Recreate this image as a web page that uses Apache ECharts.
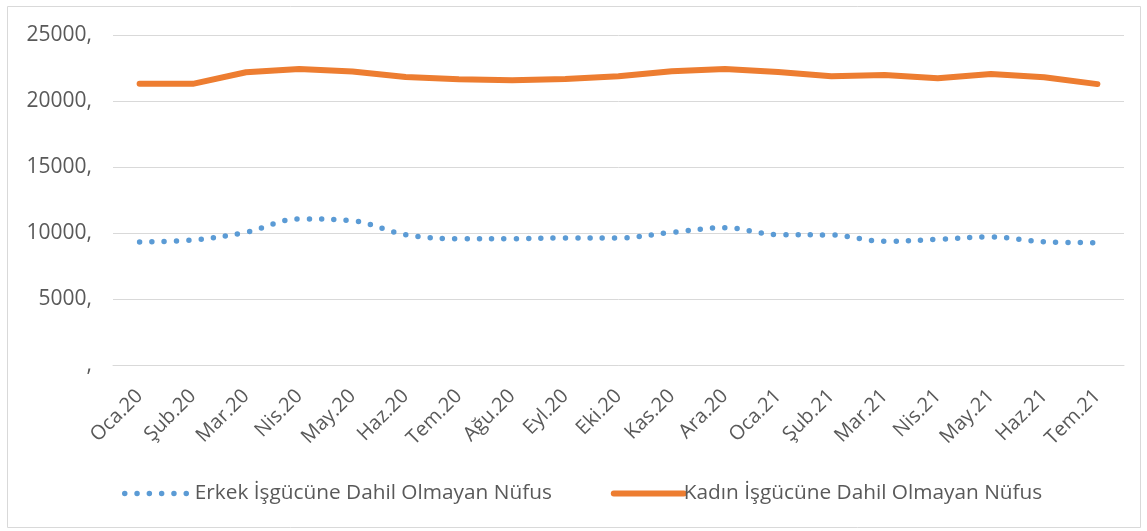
<!DOCTYPE html>
<html><head><meta charset="utf-8">
<script src="https://cdn.jsdelivr.net/npm/echarts@6/dist/echarts.min.js"></script>
<style>html,body{margin:0;padding:0;background:#fff}#c{width:1147px;height:531px}</style>
</head><body><div id="c"></div>
<script>
const categories = ["Oca.20","Şub.20","Mar.20","Nis.20","May.20","Haz.20","Tem.20","Ağu.20","Eyl.20","Eki.20","Kas.20","Ara.20","Oca.21","Şub.21","Mar.21","Nis.21","May.21","Haz.21","Tem.21"];
const erkek = [9320, 9470, 10050, 11070, 10930, 9870, 9570, 9570, 9620, 9620, 10050, 10400, 9870, 9850, 9370, 9520, 9700, 9330, 9270];
const kadin = [21300, 21300, 22180, 22420, 22240, 21820, 21650, 21580, 21660, 21880, 22260, 22420, 22190, 21880, 21970, 21730, 22040, 21800, 21280];
const yTicks = [0, 5000, 10000, 15000, 20000, 25000];
const seriesNames = ["Erkek İşgücüne Dahil Olmayan Nüfus", "Kadın İşgücüne Dahil Olmayan Nüfus"];

const chart = echarts.init(document.getElementById('c'));
const font = 'Open Sans';
chart.setOption({
  animation: false,
  graphic: [{type:'rect', shape:{x:7.5,y:6.5,width:1133,height:521}, style:{fill:'none', stroke:'#d9d9d9', lineWidth:1}}],
  grid: {left: 113, right: 23, top: 35, bottom: 166, containLabel: false},
  legend: {
    bottom: 22, left: 117, itemGap: 59, itemWidth: 70, itemHeight: 14,
    textStyle: {fontFamily: font, fontSize: 20.8, color: '#595959', padding: [0, 0, 0, -5]},
    itemStyle: {opacity: 0},
    data: [
      {name: seriesNames[0], lineStyle: {width: 5.5, type: [0, 12.3], cap: 'round'}},
      {name: seriesNames[1], lineStyle: {width: 6, cap: 'round'}}
    ]
  },
  xAxis: {
    type: 'category', data: categories, boundaryGap: true,
    axisLine: {lineStyle: {color: '#d9d9d9'}}, axisTick: {show: false},
    axisLabel: {rotate: 45, fontFamily: font, fontSize: 20, color: '#595959', margin: 28, interval: 0}
  },
  yAxis: {
    type: 'value', min: yTicks[0], max: yTicks[yTicks.length-1], interval: 5000,
    axisLine: {show: false}, axisTick: {show: false},
    splitLine: {lineStyle: {color: '#d9d9d9', width: 1}},
    axisLabel: {fontFamily: font, fontSize: 21, color: '#595959', margin: 21,
      formatter: v => v === 0 ? ',' : v + ','}
  },
  series: [
    {name: seriesNames[0], type: 'line', data: erkek, smooth: 0.35, symbol: 'none',
     lineStyle: {color: '#5b9bd5', width: 5.5, type: [0, 12.3], cap: 'round'},
     itemStyle: {color: '#5b9bd5'}},
    {name: seriesNames[1], type: 'line', data: kadin, smooth: false, symbol: 'none',
     lineStyle: {color: '#ed7d31', width: 6, cap: 'round', join: 'round'},
     itemStyle: {color: '#ed7d31'}}
  ]
});
</script></body></html>
